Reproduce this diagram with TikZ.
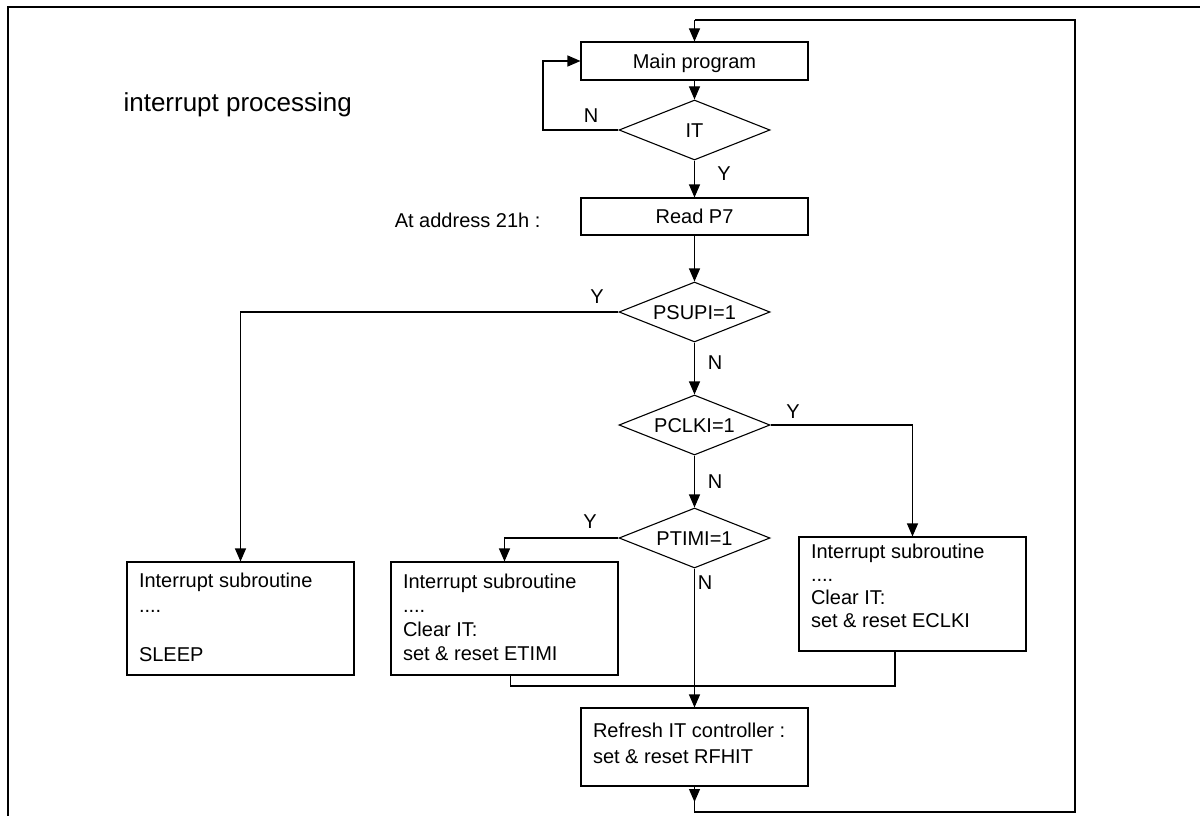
\documentclass[tikz,border=0pt]{standalone}
\usepackage{fontspec}
\setmainfont{Liberation Sans}
\usetikzlibrary{shapes.geometric,arrows.meta,calc}
\newcommand{\mybxt}[4]{\begin{minipage}[c][#1][t]{203pt}\fontsize{20}{#3}\selectfont\vspace*{#2}#4\end{minipage}}
\begin{document}
\begin{tikzpicture}[x=1pt,y=-1pt,
  line width=1.1pt,
  every node/.style={font=\fontsize{20}{24.5}\selectfont},
  procbox/.style={draw, rectangle, inner sep=0pt, minimum width=227pt},
  onetext/.style={text height=14.3pt, text depth=0pt},
  decision/.style={draw, diamond, aspect=2.52, inner sep=0pt, minimum width=151pt, minimum height=60pt, text height=14.3pt, text depth=0pt},
  arr/.style={-{Triangle[length=13pt,width=11pt]}},
  lbl/.style={inner sep=0pt}]
\useasboundingbox (0,0) rectangle (1200,816);
% frame
\draw[line width=2pt] (8,816) -- (8,7) -- (1200,7);
% title texts
\node[lbl, anchor=base west, font=\fontsize{26}{30}\selectfont] (title) at (123,111) {interrupt processing};
\node[lbl, anchor=east] (addr) at (541,220) {At address 21h :};
% main column
\node[procbox, onetext, minimum height=38pt] (main) at (694.5,61) {Main program};
\node[decision] (it) at (694.5,130) {IT};
\node[procbox, onetext, minimum height=37pt] (read) at (694.5,216.5) {Read P7};
\node[decision] (psupi) at (694.5,312) {PSUPI=1};
\node[decision] (pclki) at (694.5,425) {PCLKI=1};
\node[decision] (ptimi) at (694.5,538) {PTIMI=1};
% subroutine boxes
\node[procbox, inner xsep=12pt] (sleep) at (240.5,618.5)
  {\mybxt{113pt}{8.5pt}{24.5pt}{\strut Interrupt subroutine\\\strut ....\\\strut\\\strut SLEEP}};
\node[procbox, inner xsep=12pt] (etimi) at (504.5,618.5)
  {\mybxt{113pt}{10pt}{24pt}{\strut Interrupt subroutine\\\strut ....\\\strut Clear IT:\\\strut set \& reset ETIMI}};
\node[procbox, inner xsep=12pt] (eclki) at (912.5,594)
  {\mybxt{114pt}{5pt}{23pt}{\strut Interrupt subroutine\\\strut ....\\\strut Clear IT:\\\strut set \& reset ECLKI}};
\node[procbox, inner xsep=12pt] (refresh) at (694.5,747)
  {\mybxt{78pt}{11pt}{26pt}{\strut Refresh IT controller :\\\strut set \& reset RFHIT}};
% coordinates
\coordinate (loopc) at (543,130);
\coordinate (mrg) at (694.5,686);
\coordinate (fbtip) at (694.5,802);
\coordinate (fbA) at (694.5,812);
\coordinate (fbB) at (1075,812);
\coordinate (fbC) at (1075,20);
\coordinate (fbD) at (694.5,20);
% connectors
\draw[arr] (main.south) -- (it.north);
\draw[arr] (it.west) -- (loopc) |- (main.west);
\draw[arr] (it.south) -- (read.north);
\draw[arr] (read.south) -- (psupi.north);
\draw[arr] (psupi.west) -| (sleep.north);
\draw[arr] (psupi.south) -- (pclki.north);
\draw[arr] (pclki.east) -| (eclki.north);
\draw[arr] (pclki.south) -- (ptimi.north);
\draw[arr] (ptimi.west) -| (etimi.north);
\draw[arr] (ptimi.south) -- (refresh.north);
\draw ([xshift=6pt]etimi.south) |- (mrg);
\draw ([xshift=-17.5pt]eclki.south) |- (mrg);
\draw[arr] (refresh.south) -- (fbtip);
\draw (refresh.south) -- (fbA) -- (fbB) -- (fbC) -- (fbD);
\draw[arr] (fbD) -- (main.north);
% branch labels
\node[lbl] (nit) at (591,116) {N};
\node[lbl] (yit) at (724,174) {Y};
\node[lbl] (ypsupi) at (597,297) {Y};
\node[lbl] (npsupi) at (715,363) {N};
\node[lbl] (ypclki) at (793,412) {Y};
\node[lbl] (npclki) at (715,482) {N};
\node[lbl] (yptimi) at (590,522) {Y};
\node[lbl] (nptimi) at (705,583) {N};
\end{tikzpicture}
\end{document}
